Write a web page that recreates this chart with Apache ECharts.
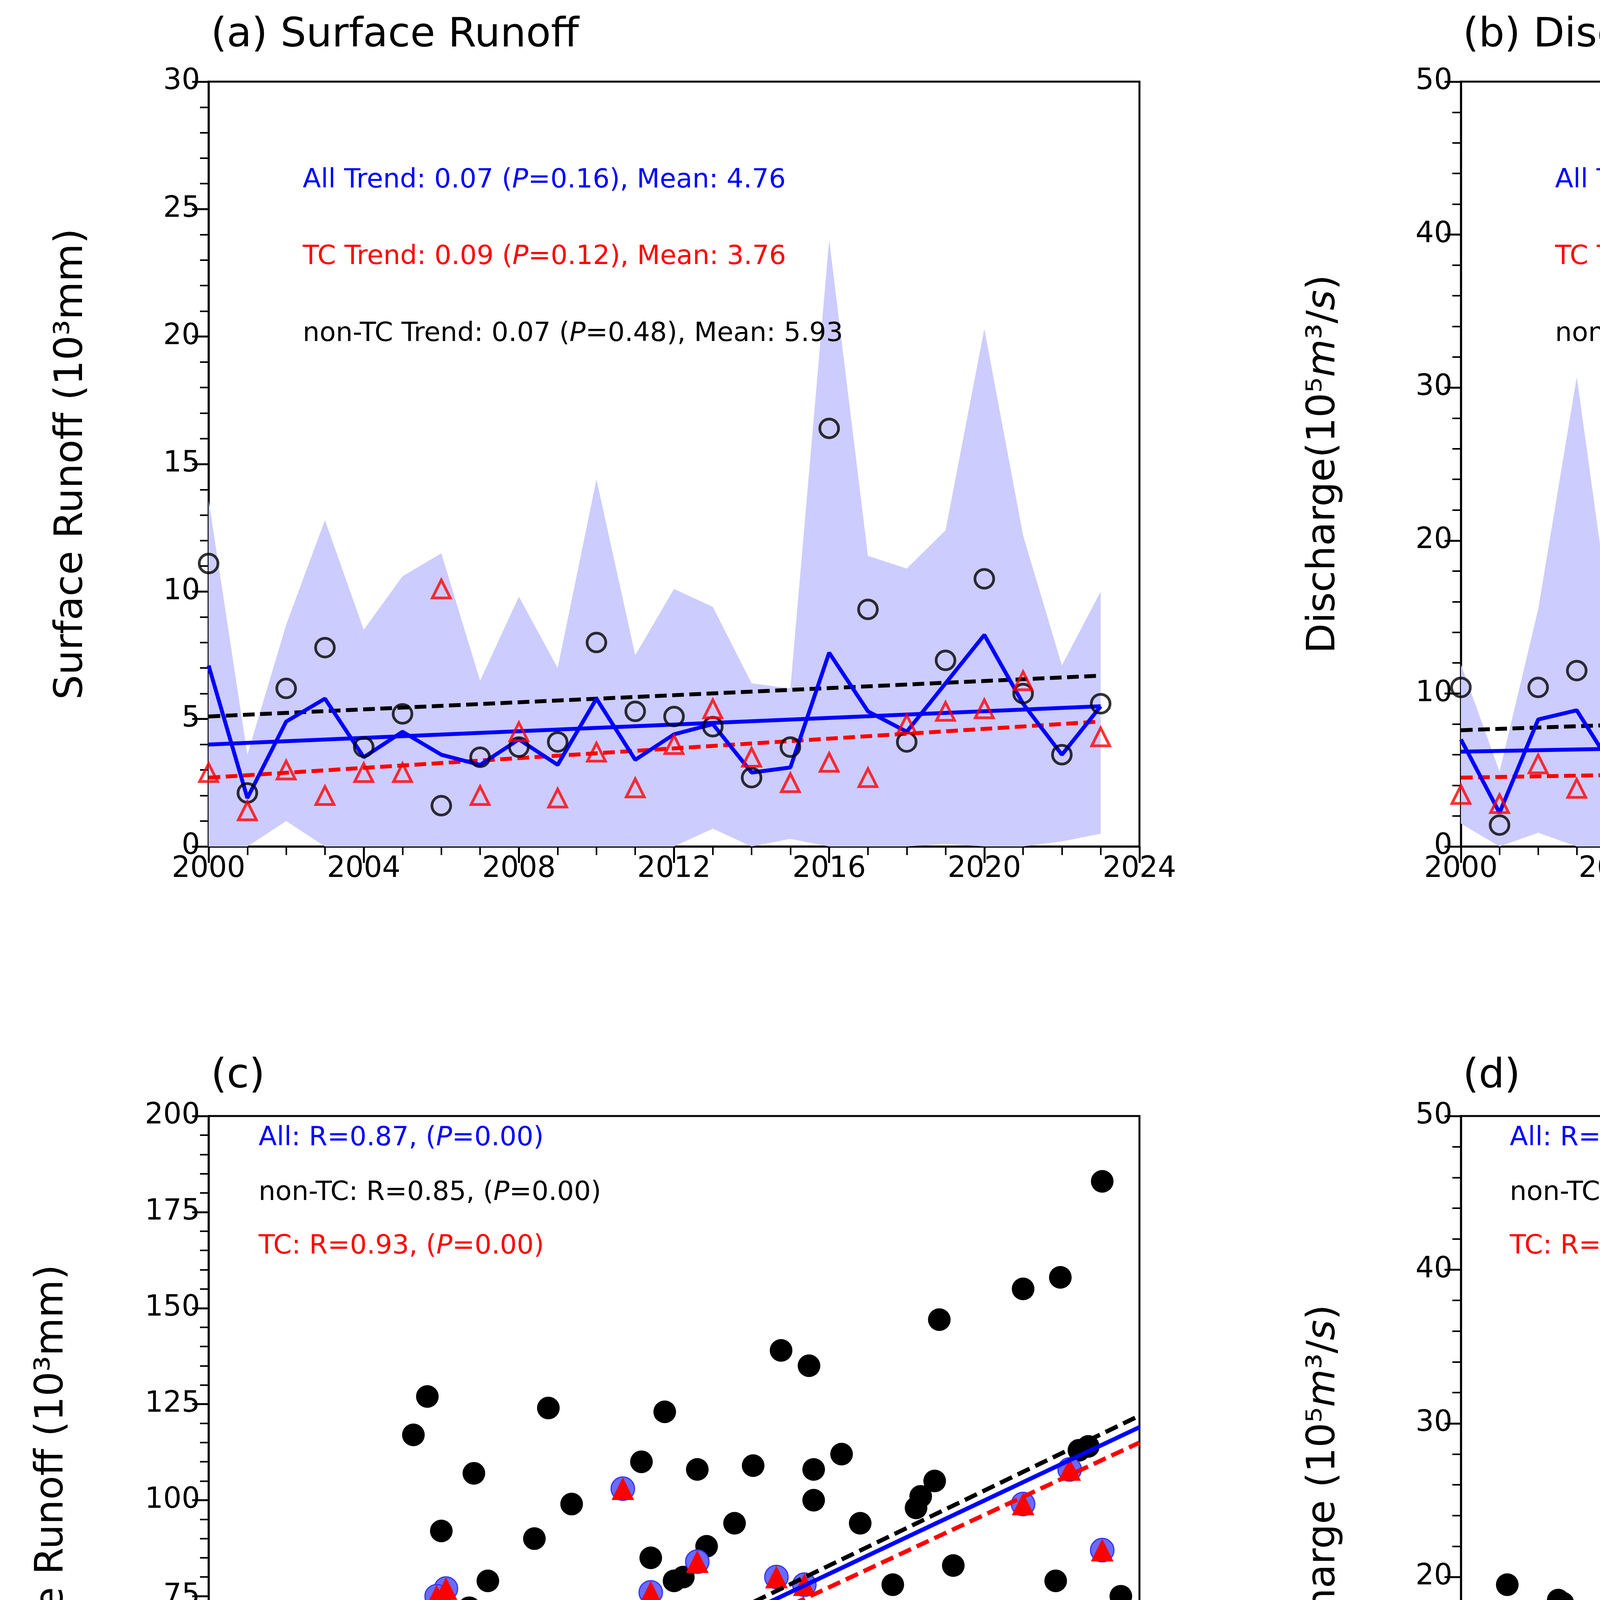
<!DOCTYPE html>
<html><head><meta charset="utf-8">
<script src="https://cdn.jsdelivr.net/npm/echarts@6/dist/echarts.min.js"></script>
<style>html,body{margin:0;padding:0;background:#fff}#c{width:6292px;height:5260px}</style>
</head><body><div id="c"></div>
<script>
const years=[2000,2001,2002,2003,2004,2005,2006,2007,2008,2009,2010,2011,2012,2013,2014,2015,2016,2017,2018,2019,2020,2021,2022,2023];
// Panel a: surface runoff
const aNonTC=[11.1,2.1,6.2,7.8,3.9,5.2,1.6,3.5,3.9,4.1,8.0,5.3,5.1,4.7,2.7,3.9,16.4,9.3,4.1,7.3,10.5,6.0,3.6,5.6];
const aTC=[2.9,1.4,3.0,2.0,2.9,2.9,10.1,2.0,4.5,1.9,3.7,2.3,4.0,5.4,3.5,2.5,3.3,2.7,4.8,5.3,5.4,6.5,null,4.3];
const aAll=[7.1,1.9,4.9,5.8,3.5,4.5,3.6,3.2,4.2,3.2,5.8,3.4,4.4,4.8,2.9,3.1,7.6,5.3,4.5,6.4,8.3,5.6,3.6,5.5];
const aUpper=[13.6,3.6,8.7,12.8,8.5,10.6,11.5,6.5,9.8,7.0,14.4,7.5,10.1,9.4,6.4,6.2,23.8,11.4,10.9,12.4,20.3,12.2,7.1,10.0];
const aLower=[0,0,1.0,0,0,0,0,0,0,0,0,0,0,0.7,0,0.3,0,0,0,0.1,0,0,0.2,0.5];
const aTrendAll=[4.0,5.5], aTrendTC=[2.7,4.9], aTrendNon=[5.1,6.7];
// Panel b: discharge
const bNonTC=[10.4,1.4,10.4,11.5,5.3,7.4,1.3,5.4,6.4,9.8,11.5,19.8,7.1,6.1,4.3,7.5,21.9,12.8,3.8,8.8,16.2,5.1,6.0,5.0];
const bTC=[3.4,2.8,5.4,3.8,3.6,3.7,12.4,3.0,5.9,2.3,6.1,3.4,5.9,6.2,5.8,4.7,4.7,5.0,7.8,5.0,5.9,8.1,null,0.8];
const bAll=[7.0,2.2,8.3,8.9,4.9,6.1,3.9,5.1,6.4,6.5,9.0,9.9,6.4,6.1,5.1,6.0,10.4,8.2,6.4,7.0,11.7,5.6,6.0,4.0];
const bUpper=[11.9,4.9,15.5,30.7,12.5,17.3,12.6,11.3,14.3,22.6,21.7,28.3,14.0,14.0,12.7,14.8,34.8,23.7,15.4,16.8,28.7,11.8,14.8,7.3];
const bLower=[1.5,0,0.9,0,0,0,0,0,0,0,0,0,0,0,0,0,0,0,0,0,0,0,0,0];
const bTrendAll=[6.2,7.3], bTrendTC=[4.5,5.5], bTrendNon=[7.6,9.6];
// Panel c: runoff vs accumulated magnitude
const cNon=[[192,183],[183,158],[175,155],[157,147],[123,139],[129,135],[44,117],[47,127],[73,124],[98,123],[93,110],[105,108],[117,109],[130,108],[130,100],[136,112],[140,94],[153,101],[156,105],[180,69],[182,79],[187,113],[189,114],[196,75],[57,107],[78,99],[70,90],[50,92],[60,79],[40,70],[35,58],[56,72],[113,94],[100,79],[120,70],[90,70],[95,85],[102,80],[63,40],[75,30],[118,38],[116,15],[130,40],[138,53],[148,50],[125,38],[160,83],[147,78],[152,98],[108,63],[107,88],[90,62],[85,42],[80,25],[85,30],[63,8],[74,20],[92,25],[60,37],[55,45],[45,48],[43,40],[30,55],[20,51],[18,45],[22,55],[24,53],[25,35],[15,35],[12,30],[8,30],[10,20],[5,15],[4,10],[3,5],[2,3],[6,8],[10,6],[15,10],[20,15],[25,20],[28,25],[35,30],[40,25],[45,35],[50,40],[55,30],[60,35],[65,45],[70,50],[75,48],[80,40],[36,10],[30,3],[27,38],[33,42],[38,47],[42,43],[48,55],[52,60],[58,48],[66,58],[68,42],[72,35],[78,55],[84,45],[88,50],[96,65],[18,25],[22,28],[26,10],[14,15],[12,5],[9,12],[7,20],[5,25],[16,40],[20,30],[28,15],[32,20],[38,35],[44,22],[48,15],[53,20],[58,25],[62,30],[30,48],[34,38],[40,40],[46,30],[24,45],[18,35]];
const cTC=[[89,103],[51,77],[49,75],[73,68],[52,57],[93,52],[97,48],[88,50],[108,42],[105,84],[95,76],[122,80],[175,99],[192,87],[185,108],[127,60],[128,78],[148,50],[123,29],[84,36],[113,41],[62,25],[67,22],[70,30],[75,45],[80,46],[55,28],[56,30],[43,47],[36,40],[20,30],[40,35],[30,28],[26,22],[27,40],[33,35],[45,32],[60,42],[62,45],[66,50],[70,43],[78,48],[82,45],[88,45],[90,45],[92,47],[46,20],[47,15],[40,27],[35,20],[29,18],[25,16],[22,20],[18,22],[15,18],[12,15],[10,12],[8,8],[6,22],[5,5],[3,3],[2,2],[4,8],[7,10],[9,5],[11,8],[14,10],[16,5],[19,12],[21,8],[24,10],[26,6],[28,12],[31,9],[33,14],[17,26],[13,20],[38,14],[50,37],[55,48],[65,55]];
const cGray=[[180,34]];
const cTrendAll=[4.5,119], cTrendTC=[2,115], cTrendNon=[5,122];
// Panel d: discharge vs accumulated magnitude
const dNon=[[107,46],[157,46.5],[146,40],[97,37],[106,33],[70,33.5],[60,30.5],[90,34],[147,30],[130,30],[183,34],[99,27],[109,26.5],[136,26],[113,26],[155,24],[140,25],[153,25],[95,26],[72,25],[60,26],[63,22],[80,20],[10,19.5],[21,18.5],[22,18.3],[70,16],[64,16],[58,15],[118,18],[123,18],[130,19],[118,17.5],[60,15],[87,15],[130,17.5],[105,12.4],[116,11.6],[138,6],[133,14.5],[140,9],[127,9],[113,8],[196,9],[65,16],[74,14],[88,8],[95,10],[102,7],[120,6],[125,3],[116,1.5],[105,2],[90,1],[93,3],[98,5],[67,1],[58,1],[63,0.5],[38,1],[45,0],[50,1],[55,2],[62,10],[68,6],[73,8],[78,5],[84,9],[30,13],[25,14],[15,11],[12,11],[20,12],[40,12],[42,10],[50,8],[52,7],[46,6],[35,9],[28,11],[32,4],[20,2],[8,7],[4,8],[3,4],[6,2],[10,5],[14,6],[18,8],[22,3],[26,5],[30,7],[36,3],[44,4],[48,12],[53,13],[55,5],[65,7],[80,12],[15,3],[12,1],[2,1],[5,6]];
const dTC=[[76,31],[36,22],[75,23],[76,22.5],[80,24.5],[89,25.5],[65,20],[95,17],[129,26],[175,22],[192,23],[185,11.5],[147,6],[129,15.5],[125,4],[123,2.5],[100,6],[95,9.5],[83,14.5],[82,11],[74,12],[83,10.5],[62,14.5],[53,14],[45,12.5],[57,11.5],[65,10.2],[60,6],[55,5],[50,8],[47,10],[36,5],[27,10],[25,8],[22,6],[20,12],[15,8],[13,6],[10,6],[8,4],[5,7],[4,3],[3,2],[2,1],[6,2],[9,2],[12,3],[14,1],[17,2],[19,4],[23,1],[26,3],[29,2],[31,4],[33,1],[38,3],[44,2],[48,4],[27,8.5],[66,0.5],[75,7],[78,6],[90,4],[92,8],[115,6],[118,7],[42,1],[35,7],[30,6],[18,7],[7,8],[11,7]];
const dGray=[[150,9.8],[181,9.3],[183,8.2],[181,3.1]];
const dTrendAll=[1.6,26.3], dTrendTC=[1.8,21.7], dTrendNon=[1.2,28];

const FONT='DejaVu Sans';
const grids=[
 {left:534,width:2383,top:209,height:1958},
 {left:3740,width:2372,top:209,height:1958},
 {left:534,width:2383,top:2857,height:1967},
 {left:3740,width:2372,top:2857,height:1967}];
const axisCommon={
 axisLine:{show:true,onZero:false,lineStyle:{color:'#000',width:5}},
 axisTick:{show:true,inside:false,length:42,lineStyle:{color:'#000',width:5}},
 minorTick:{show:true,splitNumber:4,length:22,lineStyle:{color:'#000',width:4}},
 splitLine:{show:false},
 axisLabel:{color:'#000',fontSize:74,fontFamily:FONT,margin:22,formatter:v=>String(v)},
 nameTextStyle:{color:'#000',fontSize:100,fontFamily:FONT}
};
function ax(o){const b=Object.assign({},axisCommon);b.axisLabel=Object.assign({},axisCommon.axisLabel);return Object.assign(b,o);}
const mt5={show:true,splitNumber:5,length:22,lineStyle:{color:'#000',width:4}};
const richName={n:{fontSize:100,fontFamily:FONT,color:'#000'},i:{fontSize:100,fontFamily:FONT,fontStyle:'italic',color:'#000'}};
const xAxis=[
 ax({type:'value',gridIndex:0,min:2000,max:2024,interval:4}),
 ax({type:'value',gridIndex:1,min:2000,max:2024,interval:4,name:'Year',nameLocation:'middle',nameGap:150}),
 ax({type:'value',gridIndex:2,min:0,max:200,interval:50,minorTick:mt5,name:'Accumulated Magnitude (10³mm)',nameLocation:'middle',nameGap:170}),
 ax({type:'value',gridIndex:3,min:0,max:200,interval:50,minorTick:mt5,name:'Accumulated Magnitude (10³mm)',nameLocation:'middle',nameGap:170})];
const yAxis=[
 ax({type:'value',gridIndex:0,min:0,max:30,interval:5,minorTick:mt5,name:'Surface Runoff (10³mm)',nameLocation:'middle',nameGap:300}),
 ax({type:'value',gridIndex:1,min:0,max:50,interval:10,minorTick:mt5,name:'{n|Discharge(10⁵}{i|m}{n|³/}{i|s}{n|)}',nameLocation:'middle',nameGap:300,nameTextStyle:{rich:richName}}),
 ax({type:'value',gridIndex:2,min:0,max:200,interval:25,minorTick:mt5,name:'Surface Runoff (10³mm)',nameLocation:'middle',nameGap:350}),
 ax({type:'value',gridIndex:3,min:0,max:50,interval:10,minorTick:mt5,name:'{n|Discharge (10⁵}{i|m}{n|³/}{i|s}{n|)}',nameLocation:'middle',nameGap:300,nameTextStyle:{rich:richName}})];

const series=[];
function zip(v){return years.map((y,i)=>[y,v[i]]);}
function tsPanel(g,non,tc,all,up,lo,tA,tT,tN){
 series.push({type:'custom',xAxisIndex:g,yAxisIndex:g,data:years.map((y,i)=>[y,lo[i],up[i]]),encode:{x:0,y:[1,2]},silent:true,z:1,
  renderItem:function(params,api){
   if(params.dataIndex!==0) return null;
   const pts=[];
   for(let i=0;i<years.length;i++) pts.push(api.coord([years[i],up[i]]));
   for(let i=years.length-1;i>=0;i--) pts.push(api.coord([years[i],lo[i]]));
   return {type:'polygon',shape:{points:pts},style:{fill:'#ccccff'}};
  }});
 const tl=(v,c,dash)=>series.push({type:'line',xAxisIndex:g,yAxisIndex:g,data:[[2000,v[0]],[2023,v[1]]],showSymbol:false,lineStyle:{color:c,width:10,type:dash?[30,14]:'solid'},z:3});
 tl(tN,'#000',true);tl(tT,'#ff0000',true);tl(tA,'#0000ff',false);
 series.push({type:'line',xAxisIndex:g,yAxisIndex:g,data:zip(all),showSymbol:false,lineStyle:{color:'#0000ff',width:10},z:4});
 series.push({type:'scatter',xAxisIndex:g,yAxisIndex:g,data:zip(non),symbol:'circle',symbolSize:48,itemStyle:{color:'rgba(0,0,0,0)',borderColor:'#000',borderWidth:7},z:5});
 series.push({type:'scatter',xAxisIndex:g,yAxisIndex:g,data:zip(tc).filter(p=>p[1]!=null),symbol:'triangle',symbolSize:46,itemStyle:{color:'rgba(0,0,0,0)',borderColor:'#ff0000',borderWidth:7},z:5});
}
tsPanel(0,aNonTC,aTC,aAll,aUpper,aLower,aTrendAll,aTrendTC,aTrendNon);
tsPanel(1,bNonTC,bTC,bAll,bUpper,bLower,bTrendAll,bTrendTC,bTrendNon);
function scPanel(g,non,tc,gray,tA,tT,tN){
 series.push({name:'non-TC',type:'scatter',xAxisIndex:g,yAxisIndex:g,data:non,symbol:'circle',symbolSize:58,itemStyle:{color:'#000',opacity:1},z:2});
 series.push({name:'All',type:'scatter',xAxisIndex:g,yAxisIndex:g,data:tc,symbol:'circle',symbolSize:60,itemStyle:{color:'#6b6bff',borderColor:'#3333ff',borderWidth:3,opacity:1},z:3});
 series.push({name:'TC',type:'scatter',xAxisIndex:g,yAxisIndex:g,data:tc,symbol:'triangle',symbolSize:58,itemStyle:{color:'#ff0000',opacity:1},z:4});
 const tl=(v,c,dash)=>series.push({type:'line',xAxisIndex:g,yAxisIndex:g,data:[[0,v[0]],[200,v[1]]],showSymbol:false,lineStyle:{color:c,width:11,type:dash?[34,16]:'solid'},z:5});
 tl(tN,'#000',true);tl(tT,'#ff0000',true);tl(tA,'#0000ff',false);
 series.push({type:'scatter',xAxisIndex:g,yAxisIndex:g,data:gray,symbol:'circle',symbolSize:58,itemStyle:{color:'#cccccc',opacity:1},z:20});
}
scPanel(2,cNon,cTC,cGray,cTrendAll,cTrendTC,cTrendNon);
scPanel(3,dNon,dTC,dGray,dTrendAll,dTrendTC,dTrendNon);

function rt(left,top,parts,color){
 const rich={n:{color:color,fontSize:68,fontFamily:FONT,fontWeight:'normal'},i:{color:color,fontSize:68,fontFamily:FONT,fontStyle:'italic',fontWeight:'normal'}};
 return {left:left,top:top,padding:0,text:parts.map(p=>'{'+(p[1]?'i':'n')+'|'+p[0]+'}').join(''),textStyle:{rich:rich,fontSize:68,fontWeight:'normal'}};
}
const tr=(pre,p,post)=>[[pre,0],['P',1],[post,0]];
const tstyle={fontSize:104,fontWeight:'normal',fontFamily:FONT,color:'#000'};
const titles=[
 {left:540,top:40,text:'(a) Surface Runoff',textStyle:tstyle,padding:0},
 {left:3745,top:40,text:'(b) Discharge',textStyle:tstyle,padding:0},
 {left:540,top:2705,text:'(c)',textStyle:tstyle,padding:0},
 {left:3745,top:2705,text:'(d)',textStyle:tstyle,padding:0},
 rt(775,428,tr('All Trend: 0.07 (','P','=0.16), Mean: 4.76'),'#0000ff'),
 rt(775,624,tr('TC Trend: 0.09 (','P','=0.12), Mean: 3.76'),'#ff0000'),
 rt(775,821,tr('non-TC Trend: 0.07 (','P','=0.48), Mean: 5.93'),'#000'),
 rt(3981,428,tr('All Trend: 0.05 (','P','=0.43), Mean: 6.72'),'#0000ff'),
 rt(3981,624,tr('TC Trend: 0.04 (','P','=0.58), Mean: 5.03'),'#ff0000'),
 rt(3981,821,tr('non-TC Trend: 0.08 (','P','=0.60), Mean: 8.53'),'#000'),
 rt(662,2880,tr('All: R=0.87, (','P','=0.00)'),'#0000ff'),
 rt(662,3020,tr('non-TC: R=0.85, (','P','=0.00)'),'#000'),
 rt(662,3157,tr('TC: R=0.93, (','P','=0.00)'),'#ff0000'),
 rt(3865,2880,tr('All: R=0.67, (','P','=0.00)'),'#0000ff'),
 rt(3865,3020,tr('non-TC: R=0.66, (','P','=0.00)'),'#000'),
 rt(3865,3157,tr('TC: R=0.77, (','P','=0.00)'),'#ff0000')];
const legendBase=(left)=>({left:left,top:4388,width:560,orient:'vertical',data:[{name:'All',icon:'circle'},{name:'non-TC',icon:'circle'},{name:'TC',icon:'triangle'}],
 itemWidth:58,itemHeight:58,itemGap:62,padding:[40,40,40,110],borderColor:'#cccccc',borderWidth:6,backgroundColor:'rgba(255,255,255,0.8)',
 textStyle:{fontSize:70,fontFamily:FONT,color:'#000',padding:[0,0,0,60]},selectedMode:false});
const option={
 animation:false,backgroundColor:'#fff',
 grid:grids.map(g=>Object.assign({show:true,borderColor:'#000',borderWidth:5,backgroundColor:'transparent'},g)),
 xAxis:xAxis,yAxis:yAxis,title:titles,
 legend:[legendBase(2287),legendBase(5484)],
 series:series};
const chart=echarts.init(document.getElementById('c'),null,{renderer:'canvas'});
chart.setOption(option);
</script></body></html>
